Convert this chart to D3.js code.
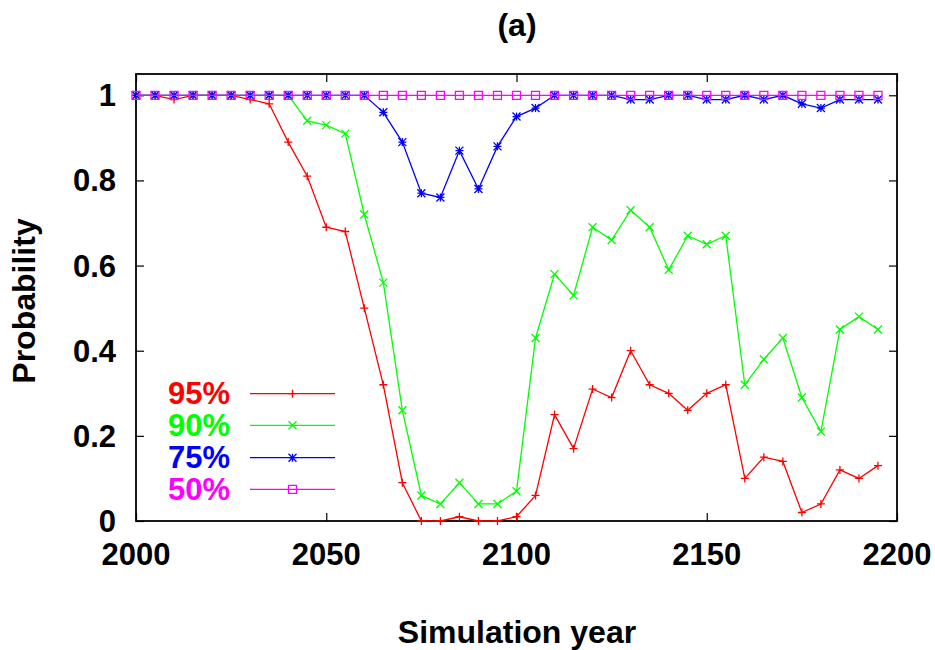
<!DOCTYPE html>
<html>
<head>
<meta charset="utf-8">
<script src="https://cdn.jsdelivr.net/npm/d3@7/dist/d3.min.js"></script>
<style>
  html, body { margin: 0; padding: 0; background: #fff; }
  svg { display: block; }
  text { font-family: "Liberation Sans", Arial, Helvetica, sans-serif; font-weight: bold; }
</style>
</head>
<body>
<svg id="chart" width="935" height="650"></svg>
<script>
const years = [2000,2005,2010,2015,2020,2025,2030,2035,2040,2045,2050,2055,2060,2065,2070,2075,2080,2085,2090,2095,
               2100,2105,2110,2115,2120,2125,2130,2135,2140,2145,2150,2155,2160,2165,2170,2175,2180,2185,2190,2195];
const p95 = [1,1,0.99,1,1,1,0.99,0.98,0.89,0.81,0.69,0.68,0.50,0.32,0.09,0,0,0.01,0,0,
             0.01,0.06,0.25,0.17,0.31,0.29,0.40,0.32,0.30,0.26,0.30,0.32,0.10,0.15,0.14,0.02,0.04,0.12,0.10,0.13];
const p90 = [1,1,1,1,1,1,1,1,1,0.94,0.93,0.91,0.72,0.56,0.26,0.06,0.04,0.09,0.04,0.04,
             0.07,0.43,0.58,0.53,0.69,0.66,0.73,0.69,0.59,0.67,0.65,0.67,0.32,0.38,0.43,0.29,0.21,0.45,0.48,0.45];
const p75 = [1,1,1,1,1,1,1,1,1,1,1,1,1,0.96,0.89,0.77,0.76,0.87,0.78,0.88,
             0.95,0.97,1,1,1,1,0.99,0.99,1,1,0.99,0.99,1,0.99,1,0.98,0.97,0.99,0.99,0.99];
const p50 = [1,1,1,1,1,1,1,1,1,1,1,1,1,1,1,1,1,1,1,1,
             1,1,1,1,1,1,1,1,1,1,1,1,1,1,1,1,1,1,1,1];
const seriesNames = ["95%","90%","75%","50%"];
const xTicks = [2000,2050,2100,2150,2200];
const yTicks = [0,0.2,0.4,0.6,0.8,1];
const yTickLabels = ["0","0.2","0.4","0.6","0.8","1"];

const colors = ["#ff0000","#00ff00","#0000ff","#ff00ff"];
const markerKinds = ["plus","cross","star","square"];
const seriesValues = [p95,p90,p75,p50];

const svg = d3.select("#chart");
const L = 136, R = 897, T = 74, B = 521;
const x = d3.scaleLinear().domain([2000,2200]).range([L,R]);
const y = d3.scaleLinear().domain([0,1.05]).range([B,T]);

function markerPath(kind, s) {
  const h = s/2;
  if (kind === "plus") return `M${-h},0H${h}M0,${-h}V${h}`;
  if (kind === "cross") return `M${-h},${-h}L${h},${h}M${-h},${h}L${h},${-h}`;
  if (kind === "star") return `M${-h},0H${h}M0,${-h}V${h}M${-h},${-h}L${h},${h}M${-h},${h}L${h},${-h}`;
  return `M${-h},${-h}H${h}V${h}H${-h}Z`;
}

// axes (ticks inward, mirrored)
const tickLen = 8;
const axG = svg.append("g");
const xAxisB = d3.axisBottom(x).tickValues(xTicks).tickSize(-tickLen).tickFormat("");
const xAxisT = d3.axisTop(x).tickValues(xTicks).tickSize(-tickLen).tickFormat("");
const yAxisL = d3.axisLeft(y).tickValues(yTicks).tickSize(-tickLen).tickFormat("");
const yAxisR = d3.axisRight(y).tickValues(yTicks).tickSize(-tickLen).tickFormat("");
axG.append("g").attr("transform",`translate(0,${B})`).call(xAxisB);
axG.append("g").attr("transform",`translate(0,${T})`).call(xAxisT);
axG.append("g").attr("transform",`translate(${L},0)`).call(yAxisL);
axG.append("g").attr("transform",`translate(${R},0)`).call(yAxisR);
axG.selectAll(".domain").remove();
axG.selectAll(".tick line").attr("stroke","#000").attr("stroke-width",1.2);
svg.append("rect").attr("x",L).attr("y",T).attr("width",R-L).attr("height",B-T)
  .attr("fill","none").attr("stroke","#000").attr("stroke-width",1.8);

// tick labels
svg.append("g").selectAll("text").data(xTicks).join("text")
  .attr("x",d=>x(d)).attr("y",565).attr("text-anchor","middle")
  .attr("font-size",31).attr("fill","#000").text(d=>d);
svg.append("g").selectAll("text").data(yTicks).join("text")
  .attr("x",L-20).attr("y",d=>y(d)+11).attr("text-anchor","end")
  .attr("font-size",31).attr("fill","#000").text((d,i)=>yTickLabels[i]);

// axis titles
svg.append("text").attr("x",517).attr("y",36).attr("text-anchor","middle")
  .attr("font-size",32).text("(a)");
svg.append("text").attr("x",517).attr("y",643).attr("text-anchor","middle")
  .attr("font-size",32).text("Simulation year");
svg.append("text").attr("transform","translate(35,301) rotate(-90)").attr("text-anchor","middle")
  .attr("font-size",32).text("Probability");

// series
const line = d3.line().x((d,i)=>x(years[i])).y(d=>y(d));
seriesValues.forEach((vals,k)=>{
  const g = svg.append("g");
  g.append("path").datum(vals).attr("d",line).attr("fill","none")
    .attr("stroke",colors[k]).attr("stroke-width",1.3);
  g.selectAll("path.m").data(vals).join("path").attr("class","m")
    .attr("transform",(d,i)=>`translate(${x(years[i])},${y(d)})`)
    .attr("d",markerPath(markerKinds[k], markerKinds[k]==="square"?8:8))
    .attr("fill","none").attr("stroke",colors[k]).attr("stroke-width",1.3);
});

// legend
const legY = [393.7,425.3,457.7,489.3];
seriesNames.forEach((name,k)=>{
  const g = svg.append("g");
  g.append("text").attr("x",230).attr("y",legY[k]+10.5).attr("text-anchor","end")
    .attr("font-size",31).attr("fill",colors[k]).text(name);
  g.append("line").attr("x1",250).attr("x2",335).attr("y1",legY[k]).attr("y2",legY[k])
    .attr("stroke",colors[k]).attr("stroke-width",1.3);
  g.append("path").attr("transform",`translate(292.5,${legY[k]})`)
    .attr("d",markerPath(markerKinds[k],8)).attr("fill","none")
    .attr("stroke",colors[k]).attr("stroke-width",1.3);
});
</script>
</body>
</html>
